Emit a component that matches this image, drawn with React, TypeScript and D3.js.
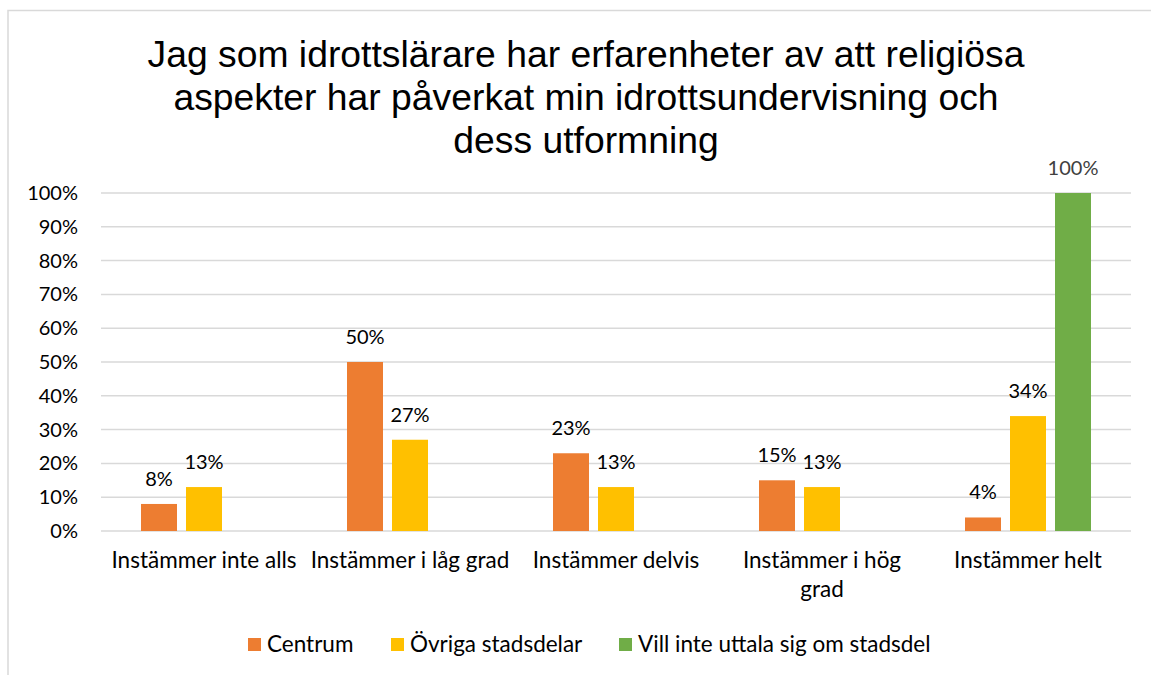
import React from "react";
import * as d3 from "d3";

const titleLines = [
  "Jag som idrottslärare har erfarenheter av att religiösa",
  "aspekter har påverkat min idrottsundervisning och",
  "dess utformning",
];
const categories = [
  "Instämmer inte alls",
  "Instämmer i låg grad",
  "Instämmer delvis",
  "Instämmer i hög grad",
  "Instämmer helt",
];
const categoryLines = [
  ["Instämmer inte alls"],
  ["Instämmer i låg grad"],
  ["Instämmer delvis"],
  ["Instämmer i hög", "grad"],
  ["Instämmer helt"],
];
const seriesNames = ["Centrum", "Övriga stadsdelar", "Vill inte uttala sig om stadsdel"];
const centrum = [8, 50, 23, 15, 4];
const ovriga = [13, 27, 13, 13, 34];
const villInte: (number | null)[] = [null, null, null, null, 100];
const seriesValues = [centrum, ovriga, villInte];
const colors = ["#ED7D31", "#FFC000", "#70AD47"];
const yTicks = [0, 10, 20, 30, 40, 50, 60, 70, 80, 90, 100];

const W = 1151;
const H = 675;
const left = 101;
const right = 1131;
const top = 193;
const bottom = 531;

export default function App() {
  const x0 = d3.scaleBand<string>().domain(categories).range([left, right]).paddingInner(0).paddingOuter(0);
  const bw = x0.bandwidth();
  const x1 = d3.scaleBand<string>().domain(seriesNames).range([40, bw - 40]).paddingInner(0.2).paddingOuter(0);
  const y = d3.scaleLinear().domain([0, 100]).range([bottom, top]);
  const font = "Lato, 'Open Sans', sans-serif";
  const numFs = 20;
  const txtFs = 22.5;

  const legendItems = [
    { x: 248, label: seriesNames[0], color: colors[0] },
    { x: 391, label: seriesNames[1], color: colors[1] },
    { x: 619, label: seriesNames[2], color: colors[2] },
  ];

  return (
    <svg width={W} height={H} style={{ position: "absolute", left: 0, top: 0, background: "#fff" }}>
      <rect x={8} y={10.5} width={W + 20} height={H + 20} fill="#fff" stroke="#d9d9d9" strokeWidth={1.5} />
      {titleLines.map((t, i) => (
        <text key={i} x={586} y={67 + i * 43} textAnchor="middle" fontFamily="'Liberation Sans', Arial, sans-serif" fontSize={37.3} fill="#000">
          {t}
        </text>
      ))}
      {yTicks.map((t) => (
        <g key={t}>
          <line x1={left} x2={right} y1={y(t)} y2={y(t)} stroke="#d9d9d9" strokeWidth={1.5} />
          <text x={78} y={y(t)} dy="0.35em" textAnchor="end" fontFamily={font} fontSize={numFs} fill="#000">
            {t}%
          </text>
        </g>
      ))}
      {categories.map((c, ci) => (
        <g key={c}>
          {seriesNames.map((s, si) => {
            const v = seriesValues[si][ci];
            if (v === null || v === undefined) return null;
            const bx = (x0(c) as number) + (x1(s) as number);
            return (
              <g key={s}>
                <rect x={bx} y={y(v)} width={x1.bandwidth()} height={y(0) - y(v)} fill={colors[si]} />
                <text x={bx + x1.bandwidth() / 2} y={y(v) - 18} textAnchor="middle" fontFamily={font} fontSize={numFs} fill={v === 100 ? "#404040" : "#000"}>
                  {v}%
                </text>
              </g>
            );
          })}
          {categoryLines[ci].map((l, li) => (
            <text key={li} x={(x0(c) as number) + bw / 2} y={568 + li * 29} textAnchor="middle" fontFamily={font} fontSize={txtFs} fill="#000">
              {l}
            </text>
          ))}
        </g>
      ))}
      {legendItems.map((it) => (
        <g key={it.label}>
          <rect x={it.x} y={638} width={13} height={13} fill={it.color} />
          <text x={it.x + 19} y={652} fontFamily={font} fontSize={txtFs} fill="#000">
            {it.label}
          </text>
        </g>
      ))}
    </svg>
  );
}
